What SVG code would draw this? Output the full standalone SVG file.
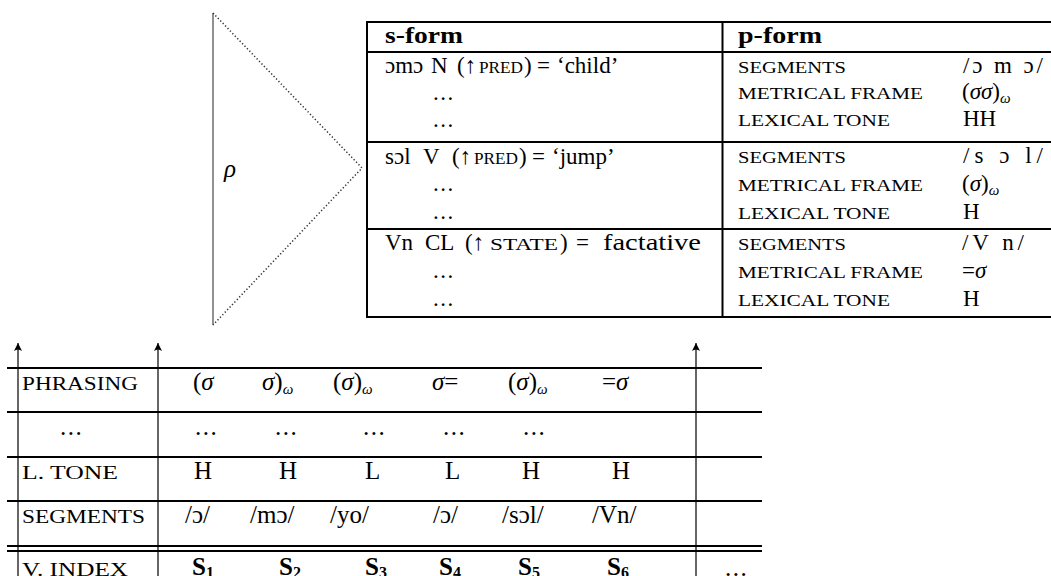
<svg xmlns="http://www.w3.org/2000/svg" width="1051" height="576" viewBox="0 0 1051 576">
<style>
text{font-family:"Liberation Serif","Times New Roman",serif;fill:#000}
.t{font-size:23px}
.T{font-size:25px}
.sc{font-size:16px}
.SC{font-size:18px}
.b{font-weight:bold}
.i{font-style:italic}
.sub{font-size:15px;font-style:italic}
.rule{stroke:#000;stroke-width:2;fill:none}
.thin{stroke:#000;stroke-width:1.2;fill:none}
.dot{stroke:#333;stroke-width:1.5;stroke-dasharray:1.3 2.2;fill:none}
</style>
<defs>
<marker id="ah" viewBox="0 0 10 10" refX="10" refY="5" markerWidth="8" markerHeight="8" orient="auto" markerUnits="userSpaceOnUse">
<path d="M0,0 Q4,5 0,10 L10,5 Z" fill="#000"/>
</marker>
</defs>

<g id="rho-triangle">
<line x1="213" y1="13" x2="213" y2="325" stroke="#555" stroke-width="1.3"/>
<polyline class="dot" points="213,13 362,168 213,325"/>
<text class="i" x="224" y="177" font-size="25">ρ</text>
</g>

<g id="lexicon-table">
<line class="rule" x1="366" y1="22" x2="1051" y2="22"/>
<line class="rule" x1="366" y1="52" x2="1051" y2="52"/>
<line class="rule" x1="366" y1="142" x2="1051" y2="142"/>
<line class="rule" x1="366" y1="229" x2="1051" y2="229"/>
<line class="rule" x1="366" y1="317" x2="1051" y2="317"/>
<line class="rule" x1="367" y1="21" x2="367" y2="318"/>
<line class="rule" x1="722.5" y1="21" x2="722.5" y2="318"/>

<text class="t b" x="385" y="43" textLength="78" lengthAdjust="spacingAndGlyphs">s-form</text>
<text class="t b" x="738" y="43" textLength="84" lengthAdjust="spacingAndGlyphs">p-form</text>

<text class="t" y="73"><tspan x="385">ɔmɔ</tspan><tspan x="431">N</tspan><tspan x="457">(↑</tspan><tspan x="479" class="sc" textLength="44" lengthAdjust="spacingAndGlyphs">PRED</tspan><tspan x="524">)</tspan><tspan x="537">=</tspan><tspan x="557">‘child’</tspan></text>
<text class="t" x="433" y="100" letter-spacing="1.5">...</text>
<text class="t" x="433" y="127" letter-spacing="1.5">...</text>

<text class="t" y="164"><tspan x="385">sɔl</tspan><tspan x="423">V</tspan><tspan x="452">(↑</tspan><tspan x="474" class="sc" textLength="44" lengthAdjust="spacingAndGlyphs">PRED</tspan><tspan x="519">)</tspan><tspan x="532">=</tspan><tspan x="552">‘jump’</tspan></text>
<text class="t" x="433" y="191" letter-spacing="1.5">...</text>
<text class="t" x="433" y="219" letter-spacing="1.5">...</text>

<text class="t" y="250"><tspan x="385">Vn</tspan><tspan x="425">CL</tspan><tspan x="465">(↑</tspan><tspan x="490" class="sc" textLength="68" lengthAdjust="spacingAndGlyphs">STATE</tspan><tspan x="560">)</tspan><tspan x="576">=</tspan><tspan x="603" textLength="98" lengthAdjust="spacingAndGlyphs">factative</tspan></text>
<text class="t" x="433" y="278" letter-spacing="1.5">...</text>
<text class="t" x="433" y="306" letter-spacing="1.5">...</text>

<text class="sc" x="738" y="73" textLength="108" lengthAdjust="spacingAndGlyphs">SEGMENTS</text>
<text class="sc" x="738" y="99" textLength="185" lengthAdjust="spacingAndGlyphs">METRICAL FRAME</text>
<text class="sc" x="738" y="126" textLength="152" lengthAdjust="spacingAndGlyphs">LEXICAL TONE</text>
<text class="sc" x="738" y="163" textLength="108" lengthAdjust="spacingAndGlyphs">SEGMENTS</text>
<text class="sc" x="738" y="191" textLength="185" lengthAdjust="spacingAndGlyphs">METRICAL FRAME</text>
<text class="sc" x="738" y="219" textLength="152" lengthAdjust="spacingAndGlyphs">LEXICAL TONE</text>
<text class="sc" x="738" y="250" textLength="108" lengthAdjust="spacingAndGlyphs">SEGMENTS</text>
<text class="sc" x="738" y="278" textLength="185" lengthAdjust="spacingAndGlyphs">METRICAL FRAME</text>
<text class="sc" x="738" y="306" textLength="152" lengthAdjust="spacingAndGlyphs">LEXICAL TONE</text>

<text class="t" x="963" y="73" textLength="80">/ɔ m ɔ/</text>
<text class="t" x="962" y="99">(<tspan class="i">σσ</tspan>)<tspan class="sub" dy="4">ω</tspan></text>
<text class="t" x="963" y="126">HH</text>
<text class="t" x="963" y="163" textLength="80">/s ɔ l/</text>
<text class="t" x="962" y="191">(<tspan class="i">σ</tspan>)<tspan class="sub" dy="4">ω</tspan></text>
<text class="t" x="963" y="219">H</text>
<text class="t" x="962" y="250" textLength="62">/V n/</text>
<text class="t" x="962" y="278">=<tspan class="i">σ</tspan></text>
<text class="t" x="963" y="306">H</text>
</g>

<g id="grid-table">
<line class="rule" x1="7" y1="368" x2="762" y2="368"/>
<line class="rule" x1="7" y1="412" x2="762" y2="412"/>
<line class="rule" x1="7" y1="457" x2="762" y2="457"/>
<line class="rule" x1="7" y1="501" x2="762" y2="501"/>
<line class="rule" x1="7" y1="546" x2="762" y2="546"/>
<line class="rule" x1="7" y1="551" x2="762" y2="551"/>

<text class="SC" x="22" y="390" textLength="116" lengthAdjust="spacingAndGlyphs">PHRASING</text>
<text class="T" x="193" y="390">(<tspan class="i">σ</tspan></text>
<text class="T" x="262" y="390"><tspan class="i">σ</tspan>)<tspan class="sub" dy="4">ω</tspan></text>
<text class="T" x="333" y="390">(<tspan class="i">σ</tspan>)<tspan class="sub" dy="4">ω</tspan></text>
<text class="T" x="432" y="390"><tspan class="i">σ</tspan>=</text>
<text class="T" x="508" y="390">(<tspan class="i">σ</tspan>)<tspan class="sub" dy="4">ω</tspan></text>
<text class="T" x="602" y="390">=<tspan class="i">σ</tspan></text>

<text class="T" x="60" y="435" letter-spacing="1.5">...</text>
<text class="T" x="195" y="435" letter-spacing="1.5">...</text>
<text class="T" x="275" y="435" letter-spacing="1.5">...</text>
<text class="T" x="363" y="435" letter-spacing="1.5">...</text>
<text class="T" x="443" y="435" letter-spacing="1.5">...</text>
<text class="T" x="523" y="435" letter-spacing="1.5">...</text>

<text class="SC" x="22" y="479" textLength="96" lengthAdjust="spacingAndGlyphs">L. TONE</text>
<text class="T" x="194" y="479">H</text>
<text class="T" x="279" y="479">H</text>
<text class="T" x="365" y="479">L</text>
<text class="T" x="445" y="479">L</text>
<text class="T" x="522" y="479">H</text>
<text class="T" x="612" y="479">H</text>

<text class="SC" x="22" y="523" textLength="123" lengthAdjust="spacingAndGlyphs">SEGMENTS</text>
<text class="T" x="185" y="523">/ɔ/</text>
<text class="T" x="250" y="523">/mɔ/</text>
<text class="T" x="330" y="523">/yo/</text>
<text class="T" x="433" y="523">/ɔ/</text>
<text class="T" x="502" y="523">/sɔl/</text>
<text class="T" x="592" y="523">/Vn/</text>

<text class="SC" x="22" y="576" textLength="106" lengthAdjust="spacingAndGlyphs">V. INDEX</text>
<text class="T b" x="192" y="575">S<tspan font-size="16" dy="3">1</tspan></text>
<text class="T b" x="279" y="575">S<tspan font-size="16" dy="3">2</tspan></text>
<text class="T b" x="365" y="575">S<tspan font-size="16" dy="3">3</tspan></text>
<text class="T b" x="439" y="575">S<tspan font-size="16" dy="3">4</tspan></text>
<text class="T b" x="518" y="575">S<tspan font-size="16" dy="3">5</tspan></text>
<text class="T b" x="607" y="575">S<tspan font-size="16" dy="3">6</tspan></text>
<text class="T" x="725" y="576" letter-spacing="1.5">...</text>
</g>

<g id="connectors">
<line class="thin" x1="18" y1="576" x2="18" y2="343" marker-end="url(#ah)"/>
<line class="thin" x1="158" y1="576" x2="158" y2="343" marker-end="url(#ah)"/>
<line class="thin" x1="696" y1="576" x2="696" y2="343" marker-end="url(#ah)"/>
</g>
</svg>
